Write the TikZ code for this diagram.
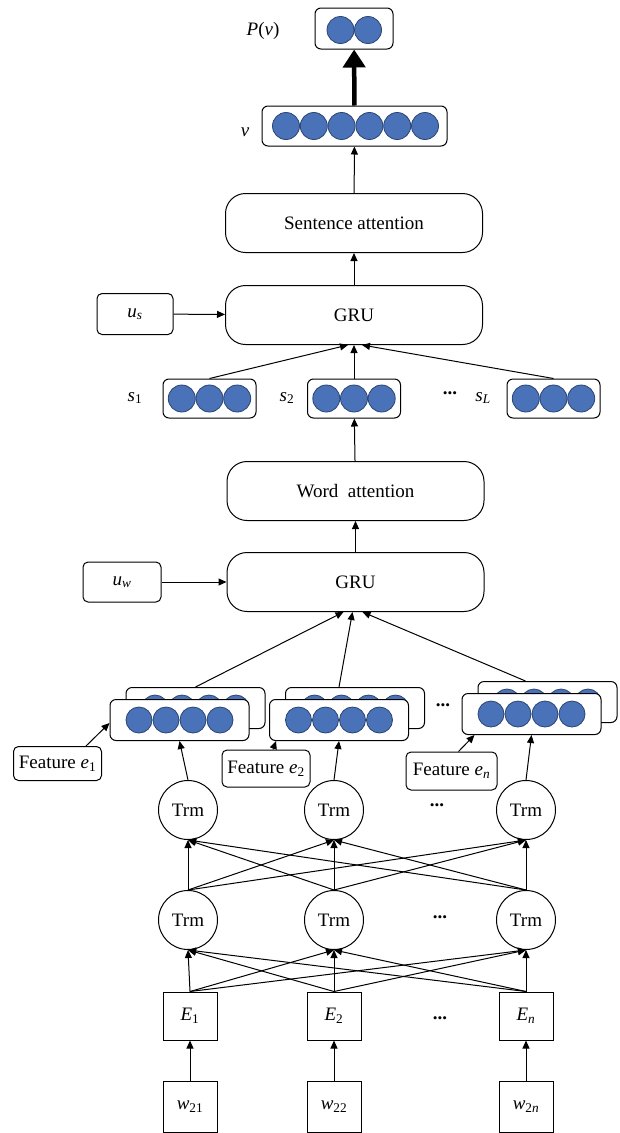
\documentclass[tikz,border=0pt]{standalone}
\usepackage{fontspec}
\setmainfont{Liberation Serif}
\usetikzlibrary{arrows.meta, positioning}
\definecolor{unitfill}{HTML}{4A72B8}
\definecolor{unitline}{HTML}{2C4470}

\begin{document}
\begin{tikzpicture}[
    x=1pt, y=-1pt,
    >={Triangle[length=8pt, width=7pt]},
    line width=1pt,
    every node/.style={font=\fontsize{19}{22}\selectfont},
    block/.style={draw, rounded corners=20pt, minimum width=257pt,
                  minimum height=59pt, fill=white},
    tag/.style={draw, rounded corners=5pt, fill=white, inner sep=0pt},
    vecbox/.style={draw, rounded corners=6pt, fill=white, inner sep=0pt},
    unit/.style={circle, draw=unitline, fill=unitfill, line width=0.8pt,
                 minimum size=27pt, inner sep=0pt},
    trm/.style={circle, draw, minimum size=59pt, inner sep=0pt},
    emb/.style={draw, minimum width=54pt, minimum height=48pt, inner sep=0pt},
    word/.style={draw, minimum width=54pt, minimum height=51pt, inner sep=0pt},
    lbl/.style={inner sep=0pt},
    gap/.style={inner sep=0pt, font=\fontsize{19}{22}\selectfont\bfseries}
  ]
  \useasboundingbox (0,0) rectangle (619,1133);

  \node[vecbox, minimum width=78pt, minimum height=41pt] (pv) at (354,28.5) {};
  \foreach \i/\x in {1/340.5, 2/368} \node[unit] (pv\i) at (\x,30) {};
  \node[lbl] (pvl) at (263,31) {\textit{P}(\textit{v})};

  \node[vecbox, minimum width=185pt, minimum height=40pt] (v) at (354.5,126) {};
  \foreach \i in {0,...,5} \node[unit] (v\i) at (286+27.8*\i,126) {};
  \node[lbl] (vl) at (245,132) {\textit{v}};

  \node[block] (satt) at (354,223) {Sentence attention};
  \node[block] (gru2) at (354,315) {GRU};
  \node[tag, minimum width=76pt, minimum height=41pt] (us) at (135,314)
       {\textit{u}\textsubscript{\textit{s}}};

  \foreach \n/\x in {s1/209.5, s2/354, sL/553.5} {
    \node[vecbox, minimum width=93pt, minimum height=39pt] (\n) at (\x,398.5) {};
    \foreach \k in {0,1,2} \node[unit] (\n u\k) at (\x-27.7+27.7*\k,398.5) {};
  }
  \node[lbl] (s1l) at (135,398) {\textit{s}\textsubscript{1}};
  \node[lbl] (s2l) at (287,398) {\textit{s}\textsubscript{2}};
  \node[lbl] (sLl) at (483,398) {\textit{s}\textsubscript{\textit{L}}};
  \node[gap] (sdots) at (450,393) {...};

  \node[block] (watt) at (355.5,491) {Word\ \ attention};
  \node[block] (gru1) at (355.5,582) {GRU};
  \node[tag, minimum width=78pt, minimum height=40pt] (uw) at (122,582)
       {\textit{u}\textsubscript{\textit{w}}};

  \foreach \n/\x/\y in {1/179.5/720, 2/339/720, 3/531.5/714} {
    \node[vecbox, minimum width=139pt, minimum height=41pt] (b\n) at (\x+16,\y-12) {};
    \foreach \k in {0,...,3} \node[unit, minimum size=26pt] (b\n u\k) at (\x-24.5+27*\k,\y-12) {};
    \node[vecbox, minimum width=139pt, minimum height=41pt] (f\n) at (\x,\y) {};
    \foreach \k in {0,...,3} \node[unit, minimum size=26pt] (f\n u\k) at (\x-40.5+27*\k,\y) {};
  }
  \node[gap] (fdots) at (443,705) {...};

  \node[tag, minimum width=88pt, minimum height=34pt] (fe1) at (57.5,763.5)
       {Feature \textit{e}\textsubscript{1}};
  \node[tag, minimum width=88pt, minimum height=37pt] (fe2) at (266,768.5)
       {Feature \textit{e}\textsubscript{2}};
  \node[tag, minimum width=91pt, minimum height=38pt] (fen) at (451.5,771)
       {Feature \textit{e}\textsubscript{\textit{n}}};

  \foreach \i/\x in {1/188, 2/334, 3/526} {
    \node[trm] (tu\i) at (\x,810) {Trm};
    \node[trm] (tl\i) at (\x,920) {Trm};
  }
  \node[gap] (tudots) at (437,805) {...};
  \node[gap] (tldots) at (440,917) {...};

  \node[emb] (e1) at (190,1016) {\textit{E}\textsubscript{1}};
  \node[emb] (e2) at (334,1016) {\textit{E}\textsubscript{2}};
  \node[emb] (e3) at (526,1016) {\textit{E}\textsubscript{\textit{n}}};
  \node[gap] (edots) at (440,1018) {...};

  \node[word] (w1) at (190,1106.5) {\textit{w}\textsubscript{21}};
  \node[word] (w2) at (334,1106.5) {\textit{w}\textsubscript{22}};
  \node[word] (w3) at (526,1106.5) {\textit{w}\textsubscript{2\textit{n}}};

  \foreach \i in {1,2,3} {
    \draw[->] (w\i) -- (e\i);
    \foreach \j in {1,2,3} {
      \draw[->] (e\i.north) -- (tl\j.south);
      \draw[->] (tl\i.north) -- (tu\j.south);
    }
    \draw[->] (tu\i.north) -- (f\i.south);
  }
  \draw[->] ([xshift=-16pt]fe1.north east) -- ([yshift=-3pt]f1.west);
  \draw[->] ([xshift=7pt]fe2.north) -- ([xshift=7pt]f2.south west);
  \draw[->] ([xshift=7pt]fen.north) -- ([xshift=13pt]f3.south west);

  \draw[->] (b1.north) -- ([xshift=-12pt]gru1.south);
  \draw[->] ([xshift=-16pt]b2.north) -- ([xshift=-3pt]gru1.south);
  \draw[->] ([xshift=-22pt]b3.north) -- ([xshift=7pt]gru1.south);
  \draw[->] (uw) -- (gru1);
  \draw[->] (gru1) -- (watt);
  \draw[->] (watt) -- (s2);
  \draw[->] (s1.north) -- ([xshift=-6pt]gru2.south);
  \draw[->] (s2) -- (gru2);
  \draw[->] (sL.north) -- ([xshift=8pt]gru2.south);
  \draw[->] (us) -- (gru2);
  \draw[->] (gru2) -- (satt);
  \draw[->] (satt) -- (v);
  \draw[line width=4.5pt, -{Triangle[length=18pt, width=22pt]}] (v) -- (pv);
\end{tikzpicture}
\end{document}
